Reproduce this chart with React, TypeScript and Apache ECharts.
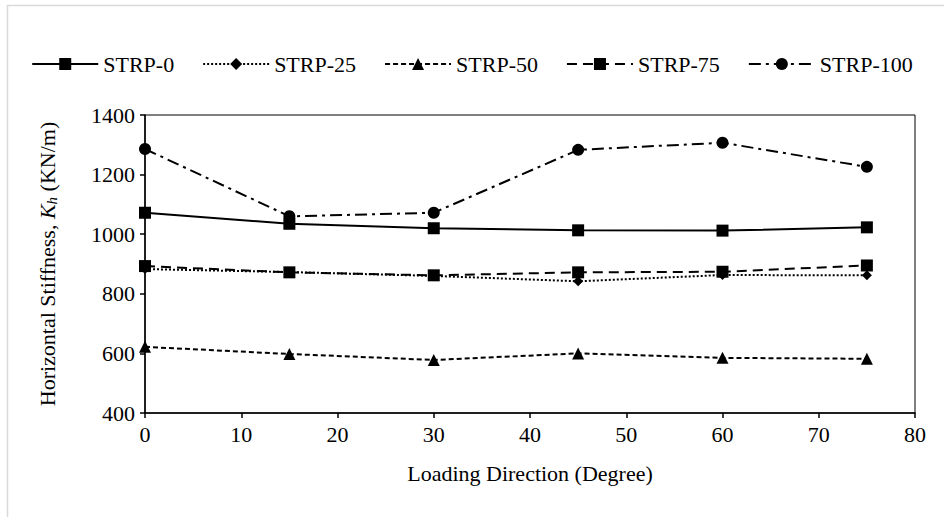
import React, { useEffect, useRef } from "react";
import * as echarts from "echarts";

const directions = [0, 15, 30, 45, 60, 75];
const strp0 = [1072, 1035, 1020, 1013, 1012, 1023];
const strp25 = [883, 873, 860, 842, 863, 862];
const strp50 = [622, 598, 578, 600, 585, 582];
const strp75 = [893, 872, 862, 872, 874, 895];
const strp100 = [1286, 1060, 1072, 1283, 1307, 1226];

const FONT = "Liberation Serif";

function pairs(vals: number[]) {
  return directions.map((d, i) => [d, vals[i]]);
}

export default function App() {
  const ref = useRef<HTMLDivElement>(null);
  useEffect(() => {
    document.body.style.margin = "0";
    if (!ref.current) return;
    const chart = echarts.init(ref.current, undefined, { renderer: "svg" });
    const mk = (
      name: string,
      vals: number[],
      symbol: string,
      symbolSize: number,
      type: any
    ) => ({
      name,
      type: "line",
      data: pairs(vals),
      symbol,
      symbolSize,
      showSymbol: true,
      itemStyle: { color: "#000" },
      lineStyle: { color: "#000", width: 2, type },
      emphasis: { disabled: true },
    });
    chart.setOption({
      animation: false,
      backgroundColor: "#fff",
      textStyle: { fontFamily: FONT, color: "#000" },
      graphic: [
        {
          type: "rect",
          shape: { x: 7.5, y: 5.5, width: 1000, height: 600 },
          style: { fill: "none", stroke: "#d9d9d9", lineWidth: 1.5 },
          silent: true,
          z: -1,
        },
      ],
      legend: {
        top: 48,
        left: "center",
        itemWidth: 66,
        itemHeight: 15,
        itemGap: 28,
        textStyle: { fontFamily: FONT, fontSize: 22, color: "#000" },
        data: ["STRP-0", "STRP-25", "STRP-50", "STRP-75", "STRP-100"],
      },
      grid: {
        left: 145,
        right: 29,
        top: 115,
        bottom: 104,
        show: true,
        borderColor: "#000",
        borderWidth: 1,
        backgroundColor: "transparent",
      },
      xAxis: {
        type: "value",
        min: 0,
        max: 80,
        interval: 10,
        name: "Loading Direction (Degree)",
        nameLocation: "middle",
        nameGap: 49,
        nameTextStyle: { fontFamily: FONT, fontSize: 22, color: "#000" },
        axisLine: { lineStyle: { color: "#000", width: 1.5 } },
        axisTick: { show: true, length: 5, lineStyle: { color: "#000", width: 1.5 } },
        axisLabel: { fontFamily: FONT, fontSize: 22, color: "#000", margin: 10 },
        splitLine: { show: false },
      },
      yAxis: {
        type: "value",
        min: 400,
        max: 1400,
        interval: 200,
        name: "Horizontal Stiffness, {i|K}{s|h} (KN/m)",
        nameLocation: "middle",
        nameRotate: 90,
        nameGap: 86,
        nameTextStyle: {
          fontFamily: FONT,
          fontSize: 22,
          color: "#000",
          rich: {
            i: { fontFamily: FONT, fontSize: 22, fontStyle: "italic", color: "#000" },
            s: {
              fontFamily: FONT,
              fontSize: 15,
              fontStyle: "italic",
              color: "#000",
              verticalAlign: "bottom",
              padding: [8, 0, 0, 0],
            },
          },
        },
        axisLine: { show: true, lineStyle: { color: "#000", width: 1.5 } },
        axisTick: { show: true, length: 5, lineStyle: { color: "#000", width: 1.5 } },
        axisLabel: {
          fontFamily: FONT,
          fontSize: 22,
          color: "#000",
          margin: 10,
          formatter: (v: number) => String(v),
        },
        splitLine: { show: false },
      },
      series: [
        mk("STRP-0", strp0, "rect", 12, "solid"),
        mk("STRP-25", strp25, "diamond", 10, [2, 2]),
        mk("STRP-50", strp50, "triangle", 12, [5, 3]),
        mk("STRP-75", strp75, "rect", 12, [10, 6]),
        mk("STRP-100", strp100, "circle", 12, [12, 5, 3, 5]),
      ],
    });
    return () => chart.dispose();
  }, []);
  return <div ref={ref} style={{ width: 944, height: 517 }} />;
}
